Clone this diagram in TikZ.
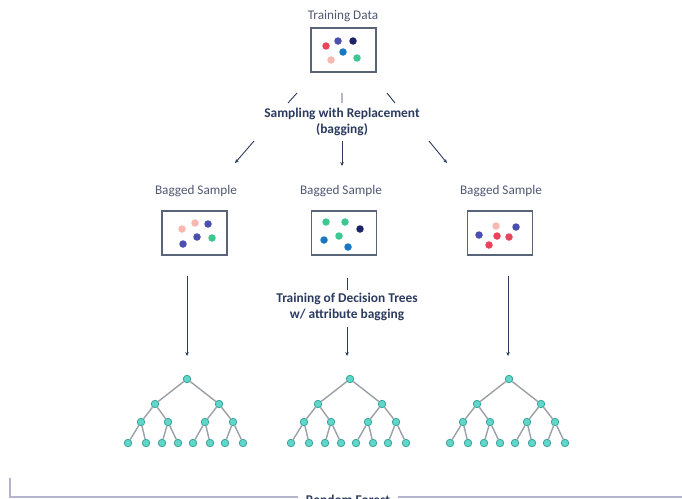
\documentclass[tikz,border=0pt]{standalone}
\usepackage{fontspec}
\setmainfont{Carlito}
\usetikzlibrary{arrows.meta}
\definecolor{navy}{HTML}{2B3A5E}
\definecolor{greytext}{HTML}{4E5872}
\definecolor{boxline}{HTML}{5A6478}
\definecolor{cred}{HTML}{E8455A}
\definecolor{cpink}{HTML}{F7B8B0}
\definecolor{cpurple}{HTML}{4B4FB0}
\definecolor{cnavy}{HTML}{1A2466}
\definecolor{cblue}{HTML}{1A78C2}
\definecolor{cgreen}{HTML}{3CC890}
\definecolor{treefill}{HTML}{62D6C8}
\definecolor{treeline}{HTML}{3AA59C}
\definecolor{edgegrey}{HTML}{9AA0A8}
\definecolor{baseline}{HTML}{B4B4CC}
\tikzset{
  lbl/.style={text=greytext,font=\fontsize{13.2}{15}\selectfont,inner sep=0pt},
  blbl/.style={text=navy,font=\fontsize{13.4}{15.5}\selectfont\bfseries,align=center,inner sep=0pt},
  databox/.style={draw=boxline,line width=1.3pt,minimum width=65pt,minimum height=44pt,inner sep=0pt},
  dot/.style={circle,fill=#1,minimum size=7.5pt,inner sep=0pt},
  tn/.style={circle,fill=treefill,draw=treeline,line width=0.8pt,minimum size=7.5pt,inner sep=0pt},
  te/.style={draw=edgegrey,line width=1.4pt},
  arr/.style={draw=navy,line width=0.9pt,-{Stealth[length=4pt,width=3.5pt]}},
  seg/.style={draw=navy,line width=0.9pt},
}
\newcommand\mytree[2]{%
  \node[tn] (#1r) at (#2,379) {};
  \node[tn] (#1a) at (#2-32,404) {};
  \node[tn] (#1b) at (#2+32,404) {};
  \node[tn] (#1c) at (#2-46,422) {};
  \node[tn] (#1d) at (#2-19,422) {};
  \node[tn] (#1e) at (#2+18,422) {};
  \node[tn] (#1f) at (#2+46,422) {};
  \node[tn] (#1g) at (#2-59,443) {};
  \node[tn] (#1h) at (#2-41,443) {};
  \node[tn] (#1i) at (#2-25,443) {};
  \node[tn] (#1j) at (#2-9,443) {};
  \node[tn] (#1k) at (#2+6,443) {};
  \node[tn] (#1l) at (#2+23,443) {};
  \node[tn] (#1m) at (#2+38,443) {};
  \node[tn] (#1n) at (#2+56,443) {};
  \draw[te] (#1r)--(#1a) (#1r)--(#1b)
    (#1a)--(#1c) (#1a)--(#1d) (#1b)--(#1e) (#1b)--(#1f)
    (#1c)--(#1g) (#1c)--(#1h) (#1d)--(#1i) (#1d)--(#1j)
    (#1e)--(#1k) (#1e)--(#1l) (#1f)--(#1m) (#1f)--(#1n);
}
\begin{document}
\begin{tikzpicture}[x=1pt,y=-1pt]
\useasboundingbox (0,0) rectangle (682,498);
\clip (0,0) rectangle (682,498);
% top
\node[lbl] (tdl) at (343,16) {Training Data};
\node[databox] (tdbox) at (343.5,50) {};
\node[dot=cred] (t1) at (326,46) {};
\node[dot=cpurple] (t2) at (338,41) {};
\node[dot=cnavy] (t3) at (353,41) {};
\node[dot=cblue] (t4) at (343,52) {};
\node[dot=cpink] (t5) at (331,60) {};
\node[dot=cgreen] (t6) at (357,58) {};
% sampling
\node[blbl] (samp) at (342,122) {Sampling with Replacement\\(bagging)};
\coordinate (u1a) at (297,93); \coordinate (u1b) at (288,103);
\coordinate (u2a) at (342,93); \coordinate (u2b) at (342,103);
\coordinate (u3a) at (387,93); \coordinate (u3b) at (395,103);
\coordinate (v1a) at (254,141); \coordinate (v1b) at (235,163);
\coordinate (v2a) at (342,141); \coordinate (v2b) at (342,166);
\coordinate (v3a) at (429,141); \coordinate (v3b) at (447,163);
\draw[seg] (u1a)--(u1b) (u2a)--(u2b) (u3a)--(u3b);
\draw[arr] (v1a)--(v1b);
\draw[arr] (v2a)--(v2b);
\draw[arr] (v3a)--(v3b);
% bagged samples
\node[lbl] (bl1) at (196,191) {Bagged Sample};
\node[lbl] (bl2) at (341,191) {Bagged Sample};
\node[lbl] (bl3) at (501,191) {Bagged Sample};
\node[databox] (b1) at (194.5,233) {};
\node[databox] (b2) at (344,233) {};
\node[databox] (b3) at (500,233) {};
% left box dots
\node[dot=cpink] (l1) at (182,229) {};
\node[dot=cpink] (l2) at (195,223) {};
\node[dot=cpurple] (l3) at (208,224) {};
\node[dot=cpurple] (l4) at (197,237) {};
\node[dot=cgreen] (l5) at (212,238) {};
\node[dot=cpurple] (l6) at (183,244) {};
% middle box dots
\node[dot=cgreen] (m1) at (326,222) {};
\node[dot=cgreen] (m2) at (345,222) {};
\node[dot=cnavy] (m3) at (360,229) {};
\node[dot=cblue] (m4) at (324,240) {};
\node[dot=cgreen] (m5) at (339,236) {};
\node[dot=cblue] (m6) at (348,247) {};
% right box dots
\node[dot=cpurple] (r1) at (479,235) {};
\node[dot=cpink] (r2) at (496,226) {};
\node[dot=cpurple] (r3) at (516,227) {};
\node[dot=cred] (r4) at (497,236) {};
\node[dot=cred] (r5) at (509,237) {};
\node[dot=cred] (r6) at (489,245) {};
% training text
\node[blbl] (train) at (347,307) {Training of Decision Trees\\w/ attribute bagging};
\coordinate (w2a) at (347,278); \coordinate (w2b) at (347,290);
\coordinate (w2c) at (347,327); \coordinate (w2d) at (347,356);
\draw[seg] (w2a)--(w2b);
\draw[arr] (w2c)--(w2d);
\coordinate (w1a) at (187,276); \coordinate (w1b) at (187,356);
\coordinate (w3a) at (508,276); \coordinate (w3b) at (508,356);
\draw[arr] (w1a)--(w1b);
\draw[arr] (w3a)--(w3b);
% trees
\mytree{A}{187}
\mytree{B}{350}
\mytree{C}{509}
% random forest bracket
\node[blbl] (rf) at (348,500) {Random Forest};
\coordinate (f1) at (10,478); \coordinate (f2) at (10,497);
\coordinate (f3) at (298,497); \coordinate (f4) at (398,497); \coordinate (f5) at (682,497);
\draw[draw=baseline,line width=1.6pt] (f1)--(f2)--(f3) (f4)--(f5);
\end{tikzpicture}
\end{document}
